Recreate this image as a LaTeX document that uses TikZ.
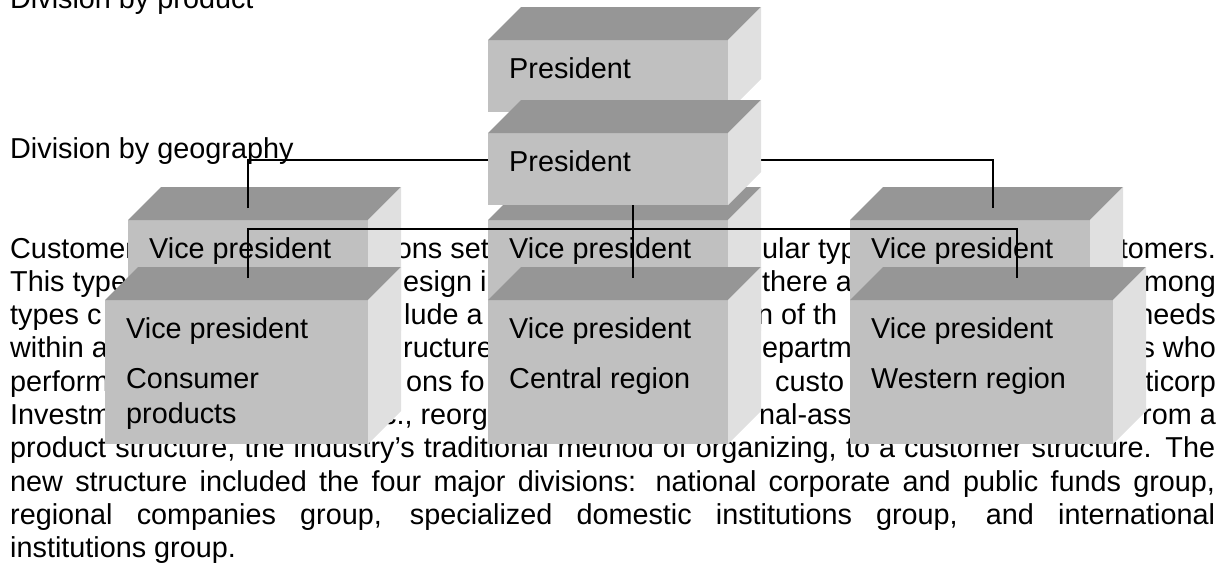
\documentclass[tikz,border=0pt]{standalone}
\usepackage{fontspec}
\setmainfont{Liberation Sans}
\usepackage{tikz}
\usetikzlibrary{calc}
\definecolor{boxfront}{RGB}{192,192,192}
\definecolor{boxtop}{RGB}{150,150,150}
\definecolor{boxside}{RGB}{224,224,224}
\tikzstyle{frontface}=[fill=boxfront,inner sep=0pt,outer sep=0pt,anchor=north west]
\tikzstyle{topface}=[fill=boxtop]
\tikzstyle{sideface}=[fill=boxside]
\tikzstyle{lbl}=[anchor=base west,inner sep=0pt]
\tikzstyle{bodyline}=[anchor=base west,inner sep=0pt]
\tikzstyle{bodyend}=[anchor=base east,inner sep=0pt]
\tikzstyle{orgline}=[line width=1.9pt]
\newcommand{\docsize}{\fontsize{28.8}{33.3}\selectfont}
\newcommand{\slabBox}[6]{
	\node[frontface,minimum width=#4pt,minimum height=#5pt] (#1) at (#2,#3) {};
	\fill[topface] (#1.north west) -- ++(33,-33) -- ++(#4,0) -- (#1.north east) -- cycle;
	\fill[sideface] (#1.north east) -- ++(33,-33) -- ++(0,#5) -- (#1.south east) -- cycle;
	\node[lbl] (#1-t) at ($(#1.north west)+(21,38)$) {#6};
}

\begin{document}
\begin{tikzpicture}[x=1pt,y=-1pt,font=\docsize]
	\useasboundingbox (0,0) rectangle (1231,566);
	\node[bodyline] (title1) at (10,8) {Division by product};
	\node[bodyline] (title2) at (10,158) {Division by geography};
	\node[bodyline] (l1a) at (10,258) {Customer};
	\node[bodyend] (l1b) at (489,258) {ons set};
	\node[bodyline] (l1c) at (762,258) {ular typ};
	\node[bodyend] (l1d) at (1216,258) {tomers.};
	\node[bodyline] (l2a) at (10,291.3) {This type};
	\node[bodyline] (l2b) at (403,291.3) {esign i};
	\node[bodyline] (l2c) at (762,291.3) {there a};
	\node[bodyend] (l2d) at (1216,291.3) {mong};
	\node[bodyline] (l3a) at (10,324.6) {types c};
	\node[bodyline] (l3b) at (404,324.6) {lude a};
	\node[bodyline] (l3c) at (757,324.6) {n of th};
	\node[bodyend] (l3d) at (1216,324.6) {needs};
	\node[bodyline] (l4a) at (10,357.9) {within a};
	\node[bodyline] (l4b) at (403,357.9) {ructure};
	\node[bodyline] (l4c) at (762,357.9) {epartm};
	\node[bodyend] (l4d) at (1216,357.9) {s who};
	\node[bodyline] (l5a) at (10,391.2) {perform};
	\node[bodyline] (l5b) at (406,391.2) {ons fo};
	\node[bodyline] (l5c) at (775,391.2) {custo};
	\node[bodyend] (l5d) at (1216,391.2) {ticorp};
	\node[bodyline] (l6a) at (10,424.5) {Investm};
	\node[bodyline] (l6b) at (382,424.5) {c., reorg};
	\node[bodyline] (l6c) at (759,424.5) {nal-asso};
	\node[bodyend] (l6d) at (1216,424.5) {rom a};
	\node[bodyline] (l7) at (10,457.8) {\makebox[1205pt][s]{product structure, the industry's traditional method of organizing, to a customer structure. The}};
	\node[bodyline] (l8) at (10,491.1) {\makebox[1205pt][s]{new structure included the four major divisions: national corporate and public funds group,}};
	\node[bodyline] (l9) at (10,524.4) {\makebox[1205pt][s]{regional companies group, specialized domestic institutions group, and international}};
	\node[bodyline] (l10) at (10,557.7) {institutions group.};
	\slabBox{pres1}{488}{40}{240}{72}{President}
	\slabBox{vpa1}{128}{220}{240}{144}{Vice president}
	\slabBox{vpa2}{488}{220}{240}{144}{Vice president}
	\slabBox{vpa3}{850}{220}{240}{144}{Vice president}
	\coordinate (ha1) at (248,160);
	\coordinate (ha3) at (993,160);
	\coordinate (ea1) at (248,208);
	\coordinate (ea3) at (993,208);
	\draw[orgline] (ea1) -- (ha1) -- (ha3) -- (ea3);
	\slabBox{pres2}{488}{133}{240}{72}{President}
	\slabBox{vpb1}{105}{300}{263}{144}{Vice president}
	\slabBox{vpb2}{488}{300}{240}{144}{Vice president}
	\slabBox{vpb3}{850}{300}{263}{144}{Vice president}
	\node[lbl] (vpb1-u) at ($(vpb1.north west)+(21,88)$) {Consumer};
	\node[lbl] (vpb1-v) at ($(vpb1.north west)+(21,123)$) {products};
	\node[lbl] (vpb2-u) at ($(vpb2.north west)+(21,88)$) {Central region};
	\node[lbl] (vpb3-u) at ($(vpb3.north west)+(21,88)$) {Western region};
	\coordinate (hb1) at (248,229);
	\coordinate (hb3) at (1017,229);
	\coordinate (sb2) at (633,205);
	\coordinate (eb1) at (248,278);
	\coordinate (eb2) at (633,278);
	\coordinate (eb3) at (1017,278);
	\draw[orgline] (eb1) -- (hb1) -- (hb3) -- (eb3);
	\draw[orgline] (sb2) -- (eb2);
\end{tikzpicture}
\end{document}
